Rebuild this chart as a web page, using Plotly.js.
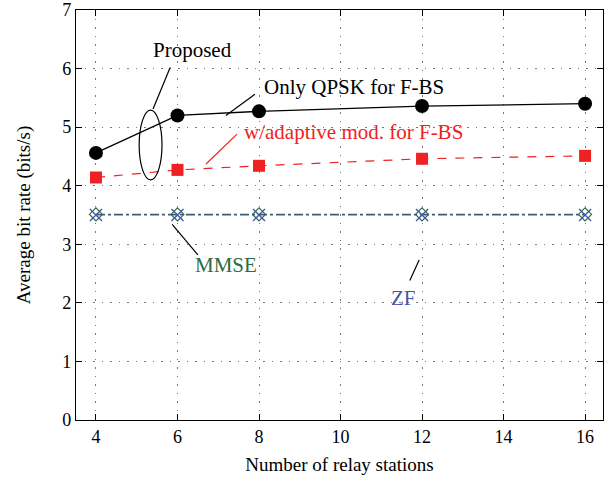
<!DOCTYPE html>
<html>
<head>
<meta charset="utf-8">
<script src="https://cdn.plot.ly/plotly-3.0.1.min.js"></script>
<style>html,body{margin:0;padding:0;background:#fff}</style>
</head>
<body>
<div id="chart" style="width:609px;height:482px"></div>
<script>
const relays = [4, 6, 8, 12, 16];
const onlyQPSK = [4.56, 5.20, 5.27, 5.36, 5.40];
const adaptive = [4.14, 4.27, 4.34, 4.46, 4.51];
const mmse = [3.51, 3.51, 3.51, 3.51, 3.51];
const zf = [3.50, 3.50, 3.50, 3.50, 3.50];

const serif = "Liberation Serif, Times New Roman, serif";

const traces = [
  {x: relays, y: onlyQPSK, mode: 'lines+markers', name: 'Only QPSK for F-BS',
   line: {color: '#000', width: 1.3}, marker: {symbol: 'circle', size: 14, color: '#000'}},
  {x: relays, y: adaptive, mode: 'lines+markers', name: 'w/adaptive mod. for F-BS',
   line: {color: '#ee2222', width: 1.2, dash: 'dash'}, marker: {symbol: 'square', size: 12, color: '#ee2222'}},
  {x: relays, y: mmse, mode: 'lines+markers', name: 'MMSE',
   line: {color: '#2e6b3e', width: 1.2, dash: 'dashdot'},
   marker: {symbol: 'diamond-open', size: 10, color: '#2e6b3e', line: {width: 1.2}}},
  {x: relays, y: zf, mode: 'lines+markers', name: 'ZF',
   line: {color: '#4455aa', width: 1.2, dash: 'dashdot'},
   marker: {symbol: 'x-thin-open', size: 12, color: '#4455aa', line: {width: 1.4, color: '#4455aa'}}}
];

const axisCommon = {
  showline: true, linecolor: '#000', linewidth: 1.2, mirror: 'allticks',
  ticks: 'inside', ticklen: 6, tickcolor: '#000', tickwidth: 1,
  showgrid: true, gridcolor: '#777', griddash: '1.5px,7px', gridwidth: 1,
  zeroline: false, tickfont: {family: serif, size: 18, color: '#000'}
};

const layout = {
  width: 609, height: 482,
  margin: {l: 76, r: 6, t: 10, b: 62},
  paper_bgcolor: '#fff', plot_bgcolor: '#fff',
  showlegend: false,
  font: {family: serif, color: '#000'},
  xaxis: Object.assign({}, axisCommon, {
    range: [3.51, 16.44], tickvals: [4, 6, 8, 10, 12, 14, 16],
    title: {text: 'Number of relay stations', font: {family: serif, size: 19, color: '#000'}, standoff: 12}
  }),
  yaxis: Object.assign({}, axisCommon, {
    range: [0, 7], dtick: 1,
    title: {text: 'Average bit rate (bits/s)', font: {family: serif, size: 19, color: '#000'}, standoff: 26}
  }),
  shapes: [
    {type: 'circle', xref: 'x', yref: 'y', x0: 5.06, x1: 5.62, y0: 4.10, y1: 5.29, line: {color: '#000', width: 1.2}},
    {type: 'line', xref: 'x', yref: 'y', x0: 5.82, y0: 6.02, x1: 5.40, y1: 5.31, line: {color: '#000', width: 1.2}},
    {type: 'line', xref: 'x', yref: 'y', x0: 7.90, y0: 5.56, x1: 7.19, y1: 5.20, line: {color: '#000', width: 1.2}},
    {type: 'line', xref: 'x', yref: 'y', x0: 7.46, y0: 4.88, x1: 6.70, y1: 4.37, line: {color: '#ee2222', width: 1.2}},
    {type: 'line', xref: 'x', yref: 'y', x0: 5.87, y0: 3.34, x1: 6.50, y1: 2.82, line: {color: '#000', width: 1.2}},
    {type: 'line', xref: 'x', yref: 'y', x0: 11.70, y0: 2.38, x1: 11.93, y1: 2.73, line: {color: '#000', width: 1.2}}
  ],
  annotations: [
    {x: 6.36, y: 6.31, xref: 'x', yref: 'y', text: 'Proposed', showarrow: false, font: {family: serif, size: 21, color: '#000'}},
    {x: 8.08, y: 5.68, xref: 'x', yref: 'y', text: 'Only QPSK for F-BS', xanchor: 'left', showarrow: false, font: {family: serif, size: 21, color: '#000'}},
    {x: 7.58, y: 4.92, xref: 'x', yref: 'y', text: 'w/adaptive mod. for F-BS', xanchor: 'left', showarrow: false, font: {family: serif, size: 21, color: '#ee2222'}},
    {x: 7.19, y: 2.65, xref: 'x', yref: 'y', text: 'MMSE', showarrow: false, font: {family: serif, size: 21, color: '#2e6b3e'}},
    {x: 11.55, y: 2.08, xref: 'x', yref: 'y', text: 'ZF', showarrow: false, font: {family: serif, size: 21, color: '#4455aa'}}
  ]
};

Plotly.newPlot('chart', traces, layout, {displayModeBar: false, staticPlot: true});
</script>
</body>
</html>
